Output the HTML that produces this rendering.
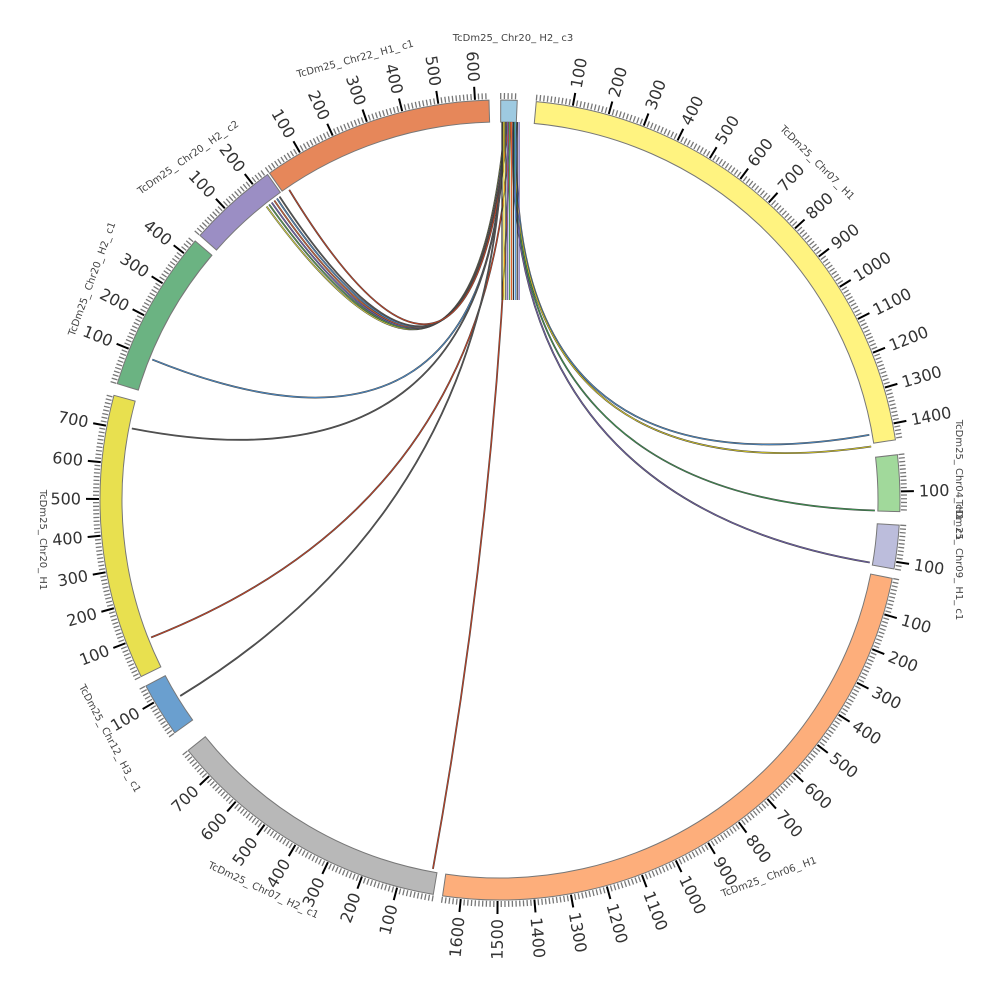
<!DOCTYPE html>
<html><head><meta charset="utf-8"><style>
html,body{margin:0;padding:0;background:#fff}
svg{display:block;font-family:"DejaVu Sans","Liberation Sans",sans-serif}
</style></head><body>
<svg id="s" width="1000" height="1000" viewBox="0 0 1000 1000"></svg>
<script>
const S=document.getElementById('s');
const cx=500,cy=500,R0=378,R1=400,K=0.0527;
function P(a,r){const t=a*Math.PI/180;return [cx+r*Math.sin(t),cy-r*Math.cos(t)];}
let out='';
const segs=[
[0.1,45,'#9ecae1'],
[5.2,1445,'#fff380'],
[83.5,155,'#a1d99b'],
[93.6,120,'#bcbddc'],
[101.3,1650,'#fdae7b'],
[189.6,790,'#b8b8b8'],
[234.4,150,'#6a9fcf'],
[243.8,785,'#e8e04f'],
[286.9,445,'#6bb382'],
[311.4,248,'#9b8ec4'],
[324.8,638,'#e6875a']];
for(const [a0,len,col] of segs){
 const a1=a0+len*K;const large=(a1-a0)>180?1:0;
 const p1=P(a0,R1),p2=P(a1,R1),p3=P(a1,R0),p4=P(a0,R0);
 out+=`<path d="M${p1} A${R1},${R1} 0 ${large} 1 ${p2} L${p3} A${R0},${R0} 0 ${large} 0 ${p4}Z" fill="${col}" stroke="#777" stroke-width="1"/>`;
 for(let u=0;u<=len;u+=10){
  const a=a0+u*K;const maj=(u%100==0&&u>0);
  const q1=P(a,R1+1),q2=P(a,R1+(maj?14:7));
  out+=`<line x1="${q1[0]}" y1="${q1[1]}" x2="${q2[0]}" y2="${q2[1]}" stroke="${maj?'#000':'#777'}" stroke-width="${maj?2:1.3}"/>`;
  if(maj && len>60){
   const q=P(a,R1+19);let rot,anc;
   if(a<180){rot=a-90;anc='start';}else{rot=a-270;anc='end';}
   out+=`<text x="${q[0]}" y="${q[1]}" font-size="16" fill="#333" text-anchor="${anc}" dominant-baseline="central" transform="rotate(${rot} ${q[0]} ${q[1]})">${u}</text>`;
  }
 }
}
const links=[
[2.6,80.0,'#4a8fd0'],[2.4,81.8,'#e0d020'],[2.2,91.6,'#3a9a50'],[2.0,99.6,'#7060b0'],
[0.8,321.5,'#e0e040'],[0.9,322,'#50a050'],[1.0,322.5,'#7060c0'],[1.1,323,'#e06030'],[1.2,323.5,'#4a8fd0'],[1.25,324,'#555'],
[1.3,325.8,'#d04020'],[0.6,292,'#4a8fd0'],[0.7,281,'#555'],[1.4,248.5,'#d04020'],[0.5,238.5,'#555'],[1.6,190.3,'#d04020']];
for(const [a,b,col] of links){
 const p1=P(a,R0),p2=P(b,R0-3);
 let c=[cx,cy];
 if(b>300&&b<330){c=[472,489];}
 const d=`M${p1} Q${c} ${p2}`;
 out+=`<path d="${d}" fill="none" stroke="#444" stroke-width="1.8"/><path d="${d}" fill="none" stroke="${col}" stroke-width="0.8"/>`;
}
for(let i=0;i<10;i++){const x=502+i*1.9;const cols=['#333','#e0d020','#555','#7060b0','#50a050','#e06030','#333','#4a8fd0','#333','#7060b0'];
out+=`<line x1="${x}" y1="122" x2="${x}" y2="300" stroke="${cols[i]}" stroke-width="1.2"/>`;}
const names=[
['TcDm25_ Chr20_ H2_ c3',513,41,0],['TcDm25_ Chr07_ H1',815,165,45],['TcDm25_ Chr04_ H1_ c1',956,480,90],
['TcDm25_ Chr09_ H1_ c1',956,560,90],['TcDm25_ Chr06_ H1',770,880,-20],['TcDm25_ Chr07_ H2_ c1',262,893,25],
['TcDm25_ Chr12_ H3_ c1',107,740,62],['TcDm25_ Chr20_ H1',40,540,90],['TcDm25_ Chr20_ H2_ c1',95,280,-70],
['TcDm25_ Chr20_ H2_ c2',190,160,-35],['TcDm25_ Chr22_ H1_ c1',356,62,-15]];
for(const [t,x,y,r] of names) out+=`<text x="${x}" y="${y}" font-size="10" fill="#444" text-anchor="middle" transform="rotate(${r} ${x} ${y})">${t}</text>`;
S.innerHTML=out;
</script>
</body></html>
